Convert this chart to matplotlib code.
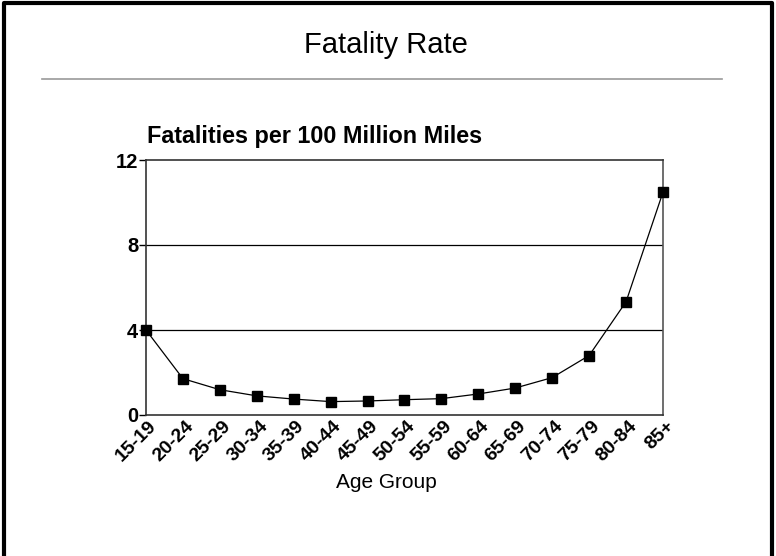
import matplotlib
matplotlib.use("Agg")
import matplotlib.pyplot as plt
import matplotlib.transforms as mtransforms
from matplotlib.lines import Line2D

plt.rcParams['font.family'] = ['Liberation Sans', 'DejaVu Sans']

# Data
age_groups = ['15-19', '20-24', '25-29', '30-34', '35-39', '40-44', '45-49',
              '50-54', '55-59', '60-64', '65-69', '70-74', '75-79', '80-84', '85+']
fatality_rate = [4.0, 1.71, 1.19, 0.9, 0.75, 0.63, 0.66, 0.72, 0.77,
                 0.99, 1.27, 1.76, 2.8, 5.33, 10.49]
y_ticks = [0, 4, 8, 12]

fig = plt.figure(figsize=(7.76, 5.56), dpi=100)
ax = fig.add_axes([146 / 776, 1 - 415 / 556, (663 - 146) / 776, (415 - 160) / 556])

x = list(range(len(age_groups)))
ax.plot(x, fatality_rate, color='black', linewidth=0.9, marker='s',
        markersize=6.5, clip_on=False, zorder=3)

ax.set_xlim(0, len(age_groups) - 1)
ax.set_ylim(0, 12)
ax.set_yticks(y_ticks)
ax.set_yticklabels([str(t) for t in y_ticks], fontsize=14.5, fontweight='bold')
ax.set_xticks(x)
ax.set_xticklabels(age_groups, fontsize=14, fontweight='bold',
                   rotation=45, ha='right', va='center', rotation_mode='anchor')
ax.tick_params(axis='x', length=0, pad=6)
ax.tick_params(axis='y', length=5, width=1, pad=0.5)

# nudge the rotated labels to the right so their ends sit just past the tick
shift = mtransforms.ScaledTranslation(6 / 72, 0, fig.dpi_scale_trans)
for lbl in ax.get_xticklabels():
    lbl.set_transform(lbl.get_transform() + shift)

for g in [4, 8]:
    ax.axhline(g, color='black', linewidth=0.9, zorder=1)

for side in ['left', 'bottom', 'top']:
    ax.spines[side].set_color('#333333')
    ax.spines[side].set_linewidth(1.2)
ax.spines['right'].set_color('#555555')
ax.spines['right'].set_linewidth(1.2)

# Titles and labels
fig.text(386 / 776, 1 - 45 / 556, 'Fatality Rate', fontsize=21,
         ha='center', va='center')
fig.text(147 / 776, 1 - 137 / 556, 'Fatalities per 100 Million Miles',
         fontsize=16.8, fontweight='bold', ha='left', va='center')
fig.text(386 / 776, 1 - 482 / 556, 'Age Group', fontsize=15,
         ha='center', va='center')

# Separator under the title
fig.add_artist(Line2D([42 / 776, 722 / 776], [1 - 79 / 556, 1 - 79 / 556],
                      transform=fig.transFigure, color='#999999', linewidth=1.2))

# Frame around the slide (left, top, right)
frame_x = [4 / 776, 4 / 776, 772 / 776, 772 / 776]
frame_y = [0, 1 - 3 / 556, 1 - 3 / 556, 0]
fig.add_artist(Line2D(frame_x, frame_y, transform=fig.transFigure,
                      color='black', linewidth=3))

fig.savefig('out.png', dpi=100)
